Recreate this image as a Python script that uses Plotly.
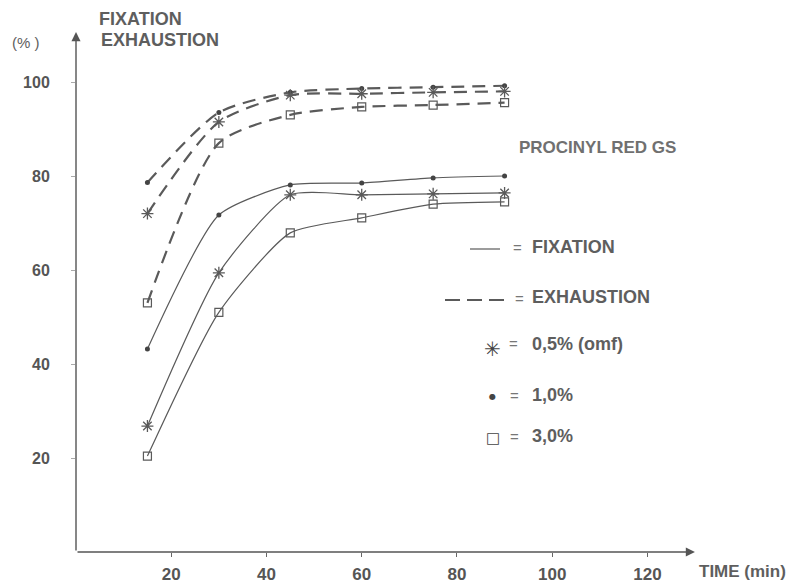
import plotly.graph_objects as go

# ---- data ----
time_min = [15, 30, 45, 60, 75, 90]

exhaustion_05 = [72.0, 91.5, 97.2, 97.5, 97.8, 98.0]
exhaustion_10 = [78.6, 93.5, 97.8, 98.6, 98.9, 99.2]
exhaustion_30 = [53.0, 87.0, 93.0, 94.7, 95.1, 95.6]

fixation_05 = [26.8, 59.4, 76.0, 76.0, 76.2, 76.4]
fixation_10 = [43.2, 71.7, 78.1, 78.5, 79.6, 80.0]
fixation_30 = [20.4, 51.0, 67.9, 71.1, 74.0, 74.5]

x_ticks = [20, 40, 60, 80, 100, 120]
y_ticks = [20, 40, 60, 80, 100]

# ---- geometry helpers (pixel -> paper) for annotations ----
W, H = 791, 583
L, R, T, B = 76, 96, 32, 31
PW, PH = W - L - R, H - T - B
X_MAX = PW / 4.762
Y_MAX = PH / 4.70


def px_x(px):
    return (px - L) / PW


def px_y(py):
    return (H - B - py) / PH


LINE_C = "#5a5a5a"
MARK_C = "#444444"
TEXT_C = "#5e5e5e"
FONT = "Liberation Sans"

fig = go.Figure()

dash_style = dict(color=LINE_C, width=2.2, dash="13px,8px", shape="spline", smoothing=0.7)
solid_style = dict(color=LINE_C, width=1.2, shape="spline", smoothing=0.6)

series = [
    (exhaustion_10, dash_style, dict(symbol="circle", size=5, color=MARK_C)),
    (exhaustion_05, dash_style, dict(symbol="asterisk-open", size=10, line=dict(color=MARK_C, width=1.3))),
    (exhaustion_30, dash_style, dict(symbol="square-open", size=8, line=dict(color=MARK_C, width=1.2))),
    (fixation_10, solid_style, dict(symbol="circle", size=5, color=MARK_C)),
    (fixation_05, solid_style, dict(symbol="asterisk-open", size=10, line=dict(color=MARK_C, width=1.3))),
    (fixation_30, solid_style, dict(symbol="square-open", size=8, line=dict(color=MARK_C, width=1.2))),
]

for yv, ls, mk in series:
    fig.add_trace(go.Scatter(x=time_min, y=yv, mode="lines+markers",
                             line=ls, marker=mk, showlegend=False, cliponaxis=False))

annotations = []

# axis arrows (drawn in data coordinates, tail at the origin)
annotations.append(dict(x=X_MAX * 0.9999, y=0, ax=0, ay=0, xref="x", yref="y", axref="x", ayref="y",
                        showarrow=True, arrowhead=2, arrowsize=1.3, arrowwidth=1.4,
                        arrowcolor="#555", text=""))
annotations.append(dict(x=0, y=Y_MAX * 0.9999, ax=0, ay=0, xref="x", yref="y", axref="x", ayref="y",
                        showarrow=True, arrowhead=2, arrowsize=1.3, arrowwidth=1.4,
                        arrowcolor="#555", text=""))


def txt(text, px, py, size=18, anchor="left", color=TEXT_C, bold=True, family=FONT):
    annotations.append(dict(text=text, x=px_x(px), y=px_y(py), xref="paper", yref="paper",
                            xanchor=anchor, yanchor="middle", showarrow=False,
                            font=dict(family=family, size=size, color=color,
                                      weight="bold" if bold else "normal")))


txt("FIXATION", 97, 19)
txt("EXHAUSTION", 99, 40)
txt("(% )", 10, 42, size=15, bold=False)
txt("PROCINYL RED GS", 517, 147, size=17, color="#707070")
txt("TIME (min)", 697, 571, size=17)

# legend
txt("=", 511, 247, size=15, color="#777", bold=False)
txt("FIXATION", 530, 247)
txt("=", 513, 298, size=15, color="#777", bold=False)
txt("EXHAUSTION", 530, 297)
txt("✳", 492, 349, size=20, anchor="center", color=MARK_C, bold=False, family="DejaVu Sans")
txt("=", 507, 343, size=15, color="#777", bold=False)
txt("0,5% (omf)", 530, 344)
txt("●", 492, 396, size=8, anchor="center", color=MARK_C, bold=False, family="DejaVu Sans")
txt("=", 508, 395, size=15, color="#777", bold=False)
txt("1,0%", 530, 395)
txt("□", 493, 438, size=15, anchor="center", color=MARK_C, bold=False, family="DejaVu Sans")
txt("=", 508, 436, size=15, color="#777", bold=False)
txt("3,0%", 530, 436)

shapes = [
    dict(type="line", xref="paper", yref="paper", x0=px_x(470), x1=px_x(500), y0=px_y(249), y1=px_y(249),
         line=dict(color=LINE_C, width=1.2)),
    dict(type="line", xref="paper", yref="paper", x0=px_x(445), x1=px_x(508), y0=px_y(300), y1=px_y(300),
         line=dict(color=LINE_C, width=2, dash="15px,7px")),
]

fig.update_layout(
    width=W, height=H,
    margin=dict(l=L, r=R, t=T, b=B, autoexpand=False),
    paper_bgcolor="white", plot_bgcolor="white",
    annotations=annotations, shapes=shapes,
    xaxis=dict(range=[0, X_MAX], tickvals=x_ticks, showgrid=False, zeroline=False,
               showline=False, ticks="outside", ticklen=4, tickcolor="#666", tickwidth=1,
               tickfont=dict(family=FONT, size=17, color="#555", weight="bold"),
               ticklabelstandoff=3, automargin=False),
    yaxis=dict(range=[0, Y_MAX], tickvals=y_ticks, showgrid=False, zeroline=False,
               showline=False, ticks="outside", ticklen=4, tickcolor="#aaa", tickwidth=1,
               tickfont=dict(family=FONT, size=16, color="#555", weight="bold"),
               ticklabelstandoff=18, automargin=False),
)

fig.write_html("out.html")
